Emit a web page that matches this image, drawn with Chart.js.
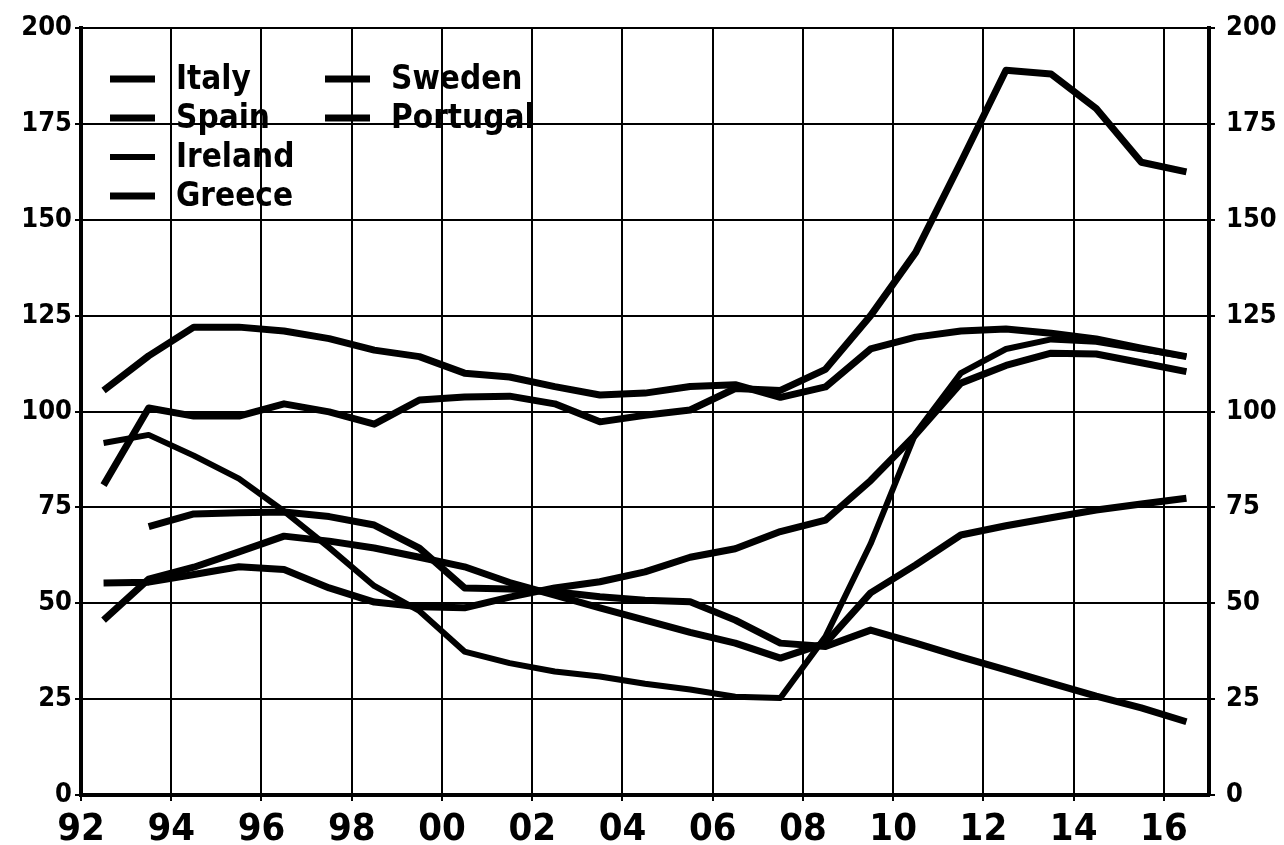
<!DOCTYPE html>
<html>
<head>
<meta charset="utf-8">
<script src="https://cdn.jsdelivr.net/npm/chart.js@4.4.1/dist/chart.umd.min.js"></script>
<style>
  html, body { margin: 0; padding: 0; background: #fff; }
  #wrap { width: 1284px; height: 845px; }
</style>
</head>
<body>
<div id="wrap"><canvas id="debt-chart" width="1284" height="845"></canvas></div>
<script>
// annual observations, plotted at mid-year
const years = [1992, 1993, 1994, 1995, 1996, 1997, 1998, 1999, 2000, 2001, 2002, 2003, 2004,
               2005, 2006, 2007, 2008, 2009, 2010, 2011, 2012, 2013, 2014, 2015, 2016];

const italy    = [105.5, 114.5, 122, 122, 121, 119, 116, 114.3, 110, 109, 106.5, 104.3, 104.8,
                  106.5, 107, 103.7, 106.4, 116.3, 119.4, 121, 121.5, 120.4, 118.9, 116.5, 114.3];
const spain    = [45.6, 56.3, 59.4, 63.4, 67.5, 66.2, 64.4, 62, 59.5, 55.4, 52.1, 48.8, 45.6,
                  42.4, 39.6, 35.7, 39.6, 52.7, 60, 67.8, 70.2, 72.3, 74.3, 75.9, 77.4];
const ireland  = [91.8, 93.9, 88.5, 82.5, 74, 64.5, 54.5, 48, 37.4, 34.4, 32.2, 30.9, 29,
                  27.5, 25.6, 25.3, 41.3, 65.5, 94.4, 110, 116.3, 118.8, 118.2, 116.2, 114.3];
const greece   = [80.8, 100.9, 98.8, 98.8, 102, 99.9, 96.7, 103, 103.8, 104, 102, 97.3, 99,
                  100.4, 106, 105.5, 111, 125, 141.5, 165, 189, 188, 179, 165, 162.5];
const sweden   = [null, 70, 73.3, 73.6, 73.8, 72.6, 70.4, 64.4, 54, 53.7, 53, 51.7, 50.8,
                  50.4, 45.6, 39.6, 38.7, 43, 39.6, 36, 32.6, 29.2, 25.8, 22.7, 19.1];
const portugal = [55.3, 55.5, 57.5, 59.5, 58.8, 54, 50.3, 49.1, 48.8, 51.6, 54, 55.6, 58.2,
                  62, 64.2, 68.7, 71.7, 82, 94, 107.4, 112, 115.2, 115, 112.7, 110.4];

const xTicks = [1992, 1994, 1996, 1998, 2000, 2002, 2004, 2006, 2008, 2010, 2012, 2014, 2016];
const yTicks = [0, 25, 50, 75, 100, 125, 150, 175, 200];

const series = [
    { label: 'Italy', values: italy, width: 7 },
    { label: 'Spain', values: spain, width: 7 },
    { label: 'Ireland', values: ireland, width: 6 },
    { label: 'Greece', values: greece, width: 7 },
    { label: 'Sweden', values: sweden, width: 7 },
    { label: 'Portugal', values: portugal, width: 7 }
];

const tickFont = "'Liberation Sans Narrow', 'DejaVu Sans Condensed', 'Liberation Sans', sans-serif";

// legend drawn inside the plot, two columns
const insideLegend = {
    id: 'insideLegend',
    afterDatasetsDraw(chart) {
        const ctx = chart.ctx;
        ctx.save();
        ctx.font = "bold 33px " + tickFont;
        ctx.textBaseline = 'middle';
        ctx.fillStyle = '#000';
        chart.data.datasets.forEach((ds, i) => {
            const col = i < 4 ? 0 : 1;
            const row = i < 4 ? i : i - 4;
            const x0 = col === 0 ? 110 : 325;
            const y = 79 + row * 39;
            ctx.strokeStyle = '#000';
            ctx.lineWidth = ds.borderWidth;
            ctx.beginPath();
            ctx.moveTo(x0, y);
            ctx.lineTo(x0 + 45, y);
            ctx.stroke();
            ctx.fillText(ds.label, x0 + 66, y + 1);
        });
        ctx.restore();
    }
};

const ctx = document.getElementById('debt-chart').getContext('2d');
new Chart(ctx, {
    type: 'line',
    data: {
        datasets: series.map(s => ({
            label: s.label,
            data: years.map((yr, i) => ({ x: yr + 0.5, y: s.values[i] })),
            borderColor: '#000',
            borderWidth: s.width,
            borderCapStyle: 'butt',
            borderJoinStyle: 'round',
            pointRadius: 0,
            tension: 0,
            fill: false,
            yAxisID: 'y'
        }))
    },
    options: {
        responsive: false,
        animation: false,
        devicePixelRatio: 1,
        layout: { padding: { top: 28, left: 0, right: 0, bottom: 0 } },
        plugins: {
            legend: { display: false },
            tooltip: { enabled: false }
        },
        scales: {
            x: {
                type: 'linear',
                min: 1992,
                max: 2017,
                afterBuildTicks: scale => { scale.ticks = xTicks.map(v => ({ value: v })); },
                afterFit: scale => { scale.height = 50; },
                ticks: {
                    color: '#000',
                    padding: 6,
                    maxRotation: 0,
                    font: { family: tickFont, weight: 'bold', size: 38 },
                    callback: v => String(v).slice(2)
                },
                grid: { color: '#000', lineWidth: 2, tickLength: 6 },
                border: { color: '#000', width: 4 }
            },
            y: {
                position: 'left',
                min: 0,
                max: 200,
                afterBuildTicks: scale => { scale.ticks = yTicks.map(v => ({ value: v })); },
                afterFit: scale => { scale.width = 81; },
                ticks: {
                    color: '#000',
                    padding: 3,
                    font: { family: tickFont, weight: 'bold', size: 27 }
                },
                grid: { color: '#000', lineWidth: 2, tickLength: 6 },
                border: { color: '#000', width: 4 }
            },
            y2: {
                position: 'right',
                min: 0,
                max: 200,
                afterBuildTicks: scale => { scale.ticks = yTicks.map(v => ({ value: v })); },
                afterFit: scale => { scale.width = 75; },
                ticks: {
                    color: '#000',
                    padding: 11,
                    font: { family: tickFont, weight: 'bold', size: 27 }
                },
                grid: { drawOnChartArea: false, color: '#000', lineWidth: 2, tickLength: 6 },
                border: { color: '#000', width: 4 }
            }
        }
    },
    plugins: [insideLegend]
});
</script>
</body>
</html>
